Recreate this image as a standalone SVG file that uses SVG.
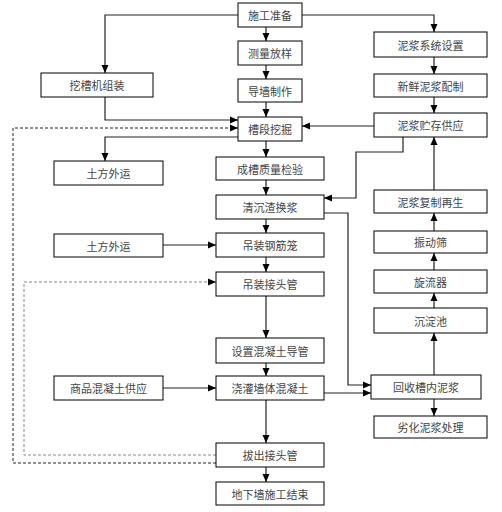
<svg xmlns="http://www.w3.org/2000/svg" width="502" height="512" viewBox="0 0 502 512">
<style>
.b{fill:#fff;stroke:#000;stroke-width:1}
.t{font-family:"Noto Sans CJK SC","Noto Sans",sans-serif;font-size:11px;fill:#444;text-anchor:middle;dominant-baseline:central}
.c{fill:none;stroke:#222;stroke-width:1.2}
.d{fill:none;stroke:#222;stroke-width:1;stroke-dasharray:3,2}
.g{fill:none;stroke:#888;stroke-width:1;stroke-dasharray:3,2}
</style>
<defs>
<marker id="a" markerUnits="userSpaceOnUse" markerWidth="8" markerHeight="8" viewBox="0 0 8 8" refX="8" refY="4" orient="auto"><path d="M0,0.5 L8,4 L0,7.5 Z" fill="#000"/></marker>
</defs>
<rect width="502" height="512" fill="#fff"/>
<g id="connectors">
<path class="c" d="M238,15 H105 V73" marker-end="url(#a)"/>
<path class="c" d="M302,15 H434 V32" marker-end="url(#a)"/>
<path class="c" d="M266,27 V41" marker-end="url(#a)"/>
<path class="c" d="M266,65 V79" marker-end="url(#a)"/>
<path class="c" d="M266,102 V117" marker-end="url(#a)"/>
<path class="c" d="M266,141 V157" marker-end="url(#a)"/>
<path class="c" d="M266,180 V195" marker-end="url(#a)"/>
<path class="c" d="M266,219 V233" marker-end="url(#a)"/>
<path class="c" d="M266,257 V272" marker-end="url(#a)"/>
<path class="c" d="M266,296 V338" marker-end="url(#a)"/>
<path class="c" d="M266,363 V376" marker-end="url(#a)"/>
<path class="c" d="M266,400 V443" marker-end="url(#a)"/>
<path class="c" d="M266,467 V482" marker-end="url(#a)"/>
<path class="c" d="M105,97 V120 H238" marker-end="url(#a)"/>
<path class="c" d="M238,137 H105 V161" marker-end="url(#a)"/>
<path class="c" d="M163,245 H216" marker-end="url(#a)"/>
<path class="c" d="M163,388 H216" marker-end="url(#a)"/>
<path class="c" d="M374,126 H302" marker-end="url(#a)"/>
<path class="c" d="M434,57 V74" marker-end="url(#a)"/>
<path class="c" d="M434,97 V113" marker-end="url(#a)"/>
<path class="c" d="M403,137 V152 H356 V198 H324" marker-end="url(#a)"/>
<path class="c" d="M434,190 V137" marker-end="url(#a)"/>
<path class="c" d="M434,231 V213" marker-end="url(#a)"/>
<path class="c" d="M434,270 V253" marker-end="url(#a)"/>
<path class="c" d="M434,308 V293" marker-end="url(#a)"/>
<path class="c" d="M434,375 V333" marker-end="url(#a)"/>
<path class="c" d="M434,399 V416" marker-end="url(#a)"/>
<path class="c" d="M324,213 H348 V385 H371" marker-end="url(#a)"/>
<path class="c" d="M324,393 H371" marker-end="url(#a)"/>
<path class="d" d="M216,463 H13 V128 H238" marker-end="url(#a)"/>
<path class="g" d="M216,455 H24 V282 H216" marker-end="url(#a)"/>
</g>
<g id="n1"><rect class="b" x="238" y="3" width="64" height="24"/><text class="t" x="270" y="15">施工准备</text></g>
<g id="n2"><rect class="b" x="238" y="41" width="64" height="24"/><text class="t" x="270" y="53">测量放样</text></g>
<g id="n3"><rect class="b" x="238" y="79" width="64" height="23"/><text class="t" x="270" y="90.5">导墙制作</text></g>
<g id="n4"><rect class="b" x="238" y="117" width="64" height="24"/><text class="t" x="270" y="129">槽段挖掘</text></g>
<g id="n5"><rect class="b" x="216" y="157" width="108" height="23"/><text class="t" x="270" y="168.5">成槽质量检验</text></g>
<g id="n6"><rect class="b" x="216" y="195" width="108" height="24"/><text class="t" x="270" y="207">清沉渣换浆</text></g>
<g id="n7"><rect class="b" x="216" y="233" width="108" height="24"/><text class="t" x="270" y="245">吊装钢筋笼</text></g>
<g id="n8"><rect class="b" x="216" y="272" width="108" height="24"/><text class="t" x="270" y="284">吊装接头管</text></g>
<g id="n9"><rect class="b" x="216" y="338" width="108" height="25"/><text class="t" x="270" y="350.5">设置混凝土导管</text></g>
<g id="n10"><rect class="b" x="216" y="376" width="108" height="24"/><text class="t" x="270" y="388">浇灌墙体混凝土</text></g>
<g id="n11"><rect class="b" x="216" y="443" width="108" height="24"/><text class="t" x="270" y="455">拔出接头管</text></g>
<g id="n12"><rect class="b" x="216" y="482" width="108" height="23"/><text class="t" x="270" y="493.5">地下墙施工结束</text></g>
<g id="n13"><rect class="b" x="374" y="32" width="113" height="25"/><text class="t" x="430.5" y="44.5">泥浆系统设置</text></g>
<g id="n14"><rect class="b" x="374" y="74" width="113" height="23"/><text class="t" x="430.5" y="85.5">新鲜泥浆配制</text></g>
<g id="n15"><rect class="b" x="374" y="113" width="113" height="24"/><text class="t" x="430.5" y="125">泥浆贮存供应</text></g>
<g id="n16"><rect class="b" x="374" y="190" width="113" height="23"/><text class="t" x="430.5" y="201.5">泥浆复制再生</text></g>
<g id="n17"><rect class="b" x="374" y="231" width="113" height="22"/><text class="t" x="430.5" y="242">振动筛</text></g>
<g id="n18"><rect class="b" x="374" y="270" width="113" height="23"/><text class="t" x="430.5" y="281.5">旋流器</text></g>
<g id="n19"><rect class="b" x="374" y="308" width="113" height="25"/><text class="t" x="430.5" y="320.5">沉淀池</text></g>
<g id="n20"><rect class="b" x="371" y="375" width="110" height="24"/><text class="t" x="426" y="387">回收槽内泥浆</text></g>
<g id="n21"><rect class="b" x="374" y="416" width="113" height="22"/><text class="t" x="430.5" y="427">劣化泥浆处理</text></g>
<g id="n22"><rect class="b" x="41" y="73" width="112" height="24"/><text class="t" x="97" y="85">挖槽机组装</text></g>
<g id="n23"><rect class="b" x="54" y="161" width="109" height="24"/><text class="t" x="108.5" y="173">土方外运</text></g>
<g id="n24"><rect class="b" x="54" y="234" width="109" height="23"/><text class="t" x="108.5" y="245.5">土方外运</text></g>
<g id="n25"><rect class="b" x="54" y="376" width="109" height="24"/><text class="t" x="108.5" y="388">商品混凝土供应</text></g>
</svg>
